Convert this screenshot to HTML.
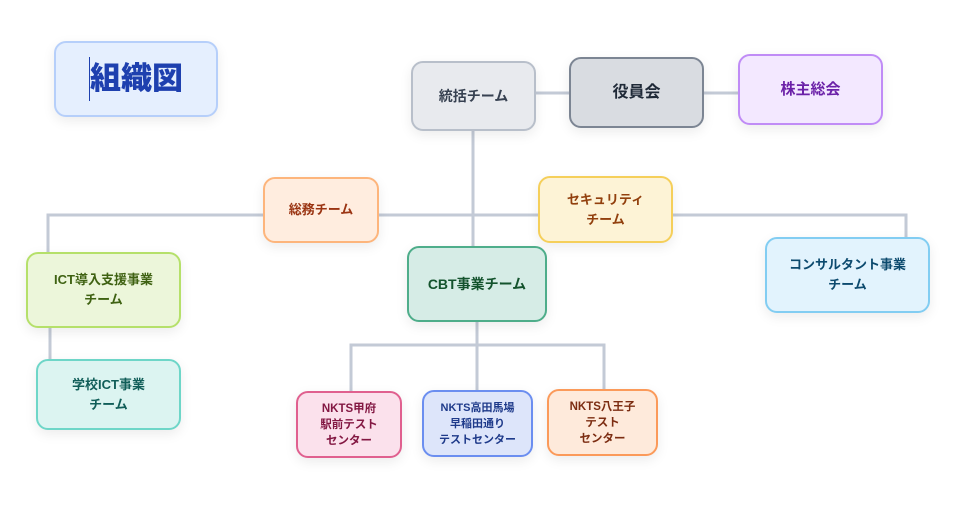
<!DOCTYPE html>
<html><head><meta charset="utf-8"><style>
body{margin:0;width:963px;height:512px;background:#fff;position:relative;overflow:hidden;font-family:"Liberation Sans","Noto Sans CJK JP",sans-serif;}
.n{position:absolute;box-sizing:border-box;border:2px solid;border-radius:12px;display:flex;align-items:center;justify-content:center;text-align:center;font-weight:bold;font-size:13px;line-height:20px;box-shadow:0 4px 12px rgba(0,0,0,0.08);}
.s{font-size:11.5px;line-height:16px;}
svg{position:absolute;left:0;top:0;}
</style></head><body>
<svg width="963" height="512"><g stroke="#c3cad6" stroke-width="3" fill="none">
<line x1="536" y1="93" x2="569" y2="93"/><line x1="704" y1="93" x2="738" y2="93"/>
<line x1="473" y1="131" x2="473" y2="246"/>
<polyline points="48,252 48,215 906,215 906,237"/>
<line x1="50" y1="328" x2="50" y2="359"/>
<line x1="477" y1="322" x2="477" y2="390"/>
<polyline points="351,391 351,345 604,345 604,389"/>
</g></svg>
<div class="n" style="left:54px;top:41px;width:164px;height:76px;background:#e5effe;border-color:#b6cffa;color:#1e40af;font-size:31px;font-weight:900;"><span style="border-left:1px solid #1e40af;line-height:44px;">組織図</span></div>
<div class="n" style="left:411px;top:61px;width:125px;height:70px;background:#e8eaee;border-color:#b8bfca;color:#374151;font-size:14px;">統括チーム</div>
<div class="n" style="left:569px;top:57px;width:135px;height:71px;background:#d9dce1;border-color:#7c8593;color:#1f2937;font-size:16px;">役員会</div>
<div class="n" style="left:738px;top:54px;width:145px;height:71px;background:#f3e8ff;border-color:#c08cf6;color:#6b21a8;font-size:15px;">株主総会</div>
<div class="n" style="left:263px;top:177px;width:116px;height:66px;background:#ffeddf;border-color:#fdb57c;color:#9a3412;">総務チーム</div>
<div class="n" style="left:538px;top:176px;width:135px;height:67px;background:#fdf3d6;border-color:#f5cf5a;color:#92400e;">セキュリティ<br>チーム</div>
<div class="n" style="left:26px;top:252px;width:155px;height:76px;background:#ecf6da;border-color:#b5e06a;color:#3f6212;">ICT導入支援事業<br>チーム</div>
<div class="n" style="left:36px;top:359px;width:145px;height:71px;background:#dcf4f1;border-color:#6ed6c8;color:#115e59;">学校ICT事業<br>チーム</div>
<div class="n" style="left:407px;top:246px;width:140px;height:76px;background:#d6ece6;border-color:#4ead8a;color:#14532d;font-size:14px;">CBT事業チーム</div>
<div class="n" style="left:765px;top:237px;width:165px;height:76px;background:#e2f3fd;border-color:#82cdf2;color:#0c4a6e;">コンサルタント事業<br>チーム</div>
<div class="n s" style="left:296px;top:391px;width:106px;height:67px;background:#fbe1ec;border-color:#e0608f;color:#831843;">NKTS甲府<br>駅前テスト<br>センター</div>
<div class="n s" style="left:422px;top:390px;width:111px;height:67px;background:#dde5fa;border-color:#6b8ef0;color:#1e3a8a;font-size:11px;">NKTS高田馬場<br>早稲田通り<br>テストセンター</div>
<div class="n s" style="left:547px;top:389px;width:111px;height:67px;background:#feeadb;border-color:#fb9a5a;color:#7c2d12;">NKTS八王子<br>テスト<br>センター</div>
</body></html>
